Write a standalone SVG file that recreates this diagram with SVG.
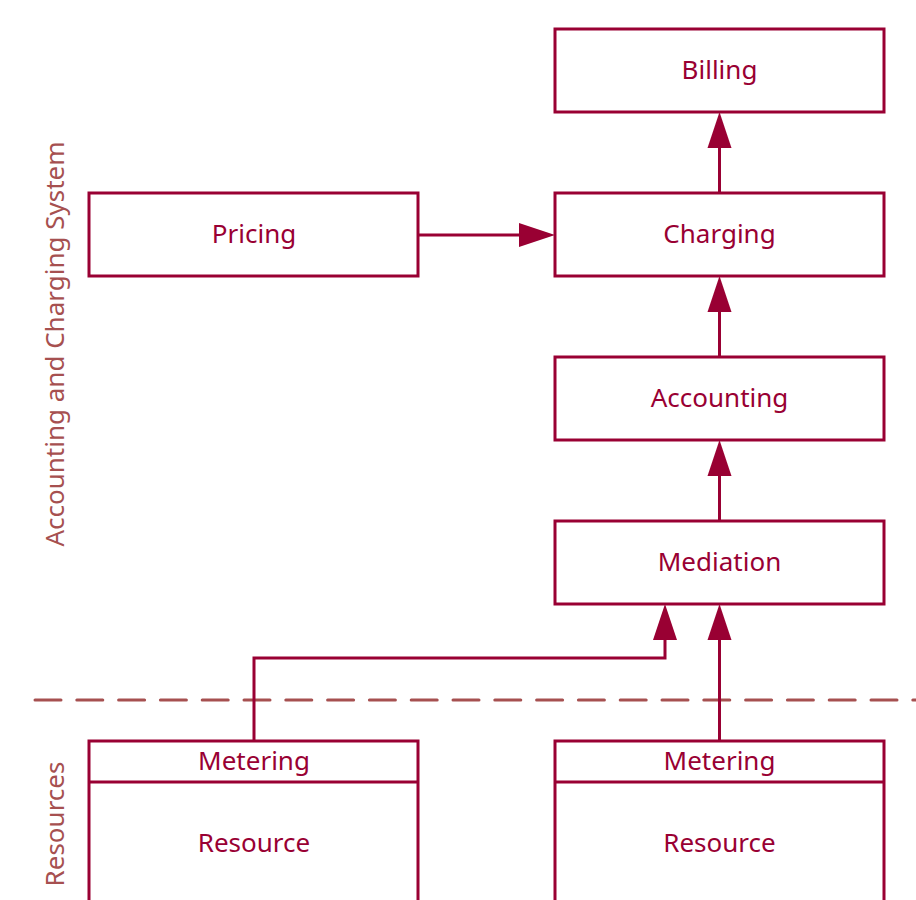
<svg xmlns="http://www.w3.org/2000/svg" width="916" height="900" viewBox="0 0 916 900">
<style>
.box{fill:#fff;stroke:#990033;stroke-width:3}
.t{font-family:"Noto Sans","Liberation Sans",sans-serif;font-size:26px;fill:#990033;text-anchor:middle}
.side{font-family:"Noto Sans","Liberation Sans",sans-serif;font-size:26px;fill:#a65050;text-anchor:middle}
.c{fill:none;stroke:#990033;stroke-width:3}
.h{fill:#990033}
</style>
<rect width="916" height="900" fill="#fff"/>
<text class="side" transform="translate(64,344) rotate(-90)">Accounting and Charging System</text>
<text class="side" transform="translate(64,824) rotate(-90)">Resources</text>
<line x1="35" y1="700" x2="940" y2="700" stroke="#a65050" stroke-width="3" stroke-linecap="round" stroke-dasharray="26,15.8"/>
<g id="billing"><rect class="box" x="555" y="29" width="329" height="83"/><text class="t" x="719.5" y="79">Billing</text></g>
<g id="charging"><rect class="box" x="555" y="193" width="329" height="83"/><text class="t" x="719.5" y="243">Charging</text></g>
<g id="pricing"><rect class="box" x="89" y="193" width="329" height="83"/><text class="t" x="254" y="243">Pricing</text></g>
<g id="accounting"><rect class="box" x="555" y="357" width="329" height="83"/><text class="t" x="719.5" y="407">Accounting</text></g>
<g id="mediation"><rect class="box" x="555" y="521" width="329" height="83"/><text class="t" x="719.5" y="571">Mediation</text></g>
<g id="resource1"><path class="box" d="M89,900 V741 H418 V900"/><line class="c" x1="89" y1="782" x2="418" y2="782"/><text class="t" x="254" y="770">Metering</text><text class="t" x="254" y="852">Resource</text></g>
<g id="resource2"><path class="box" d="M555,900 V741 H884 V900"/><line class="c" x1="555" y1="782" x2="884" y2="782"/><text class="t" x="719.5" y="770">Metering</text><text class="t" x="719.5" y="852">Resource</text></g>
<g id="connectors">
<line class="c" x1="719.5" y1="193" x2="719.5" y2="146"/><polygon class="h" points="719.5,112 707.5,148 731.5,148"/>
<line class="c" x1="719.5" y1="357" x2="719.5" y2="310"/><polygon class="h" points="719.5,276 707.5,312 731.5,312"/>
<line class="c" x1="719.5" y1="521" x2="719.5" y2="474"/><polygon class="h" points="719.5,440 707.5,476 731.5,476"/>
<line class="c" x1="418" y1="235" x2="521" y2="235"/><polygon class="h" points="555,235 519,223 519,247"/>
<path class="c" d="M254,741 V658 H665 V638"/><polygon class="h" points="665,604 653,640 677,640"/>
<line class="c" x1="719.5" y1="741" x2="719.5" y2="638"/><polygon class="h" points="719.5,604 707.5,640 731.5,640"/>
</g>
</svg>
